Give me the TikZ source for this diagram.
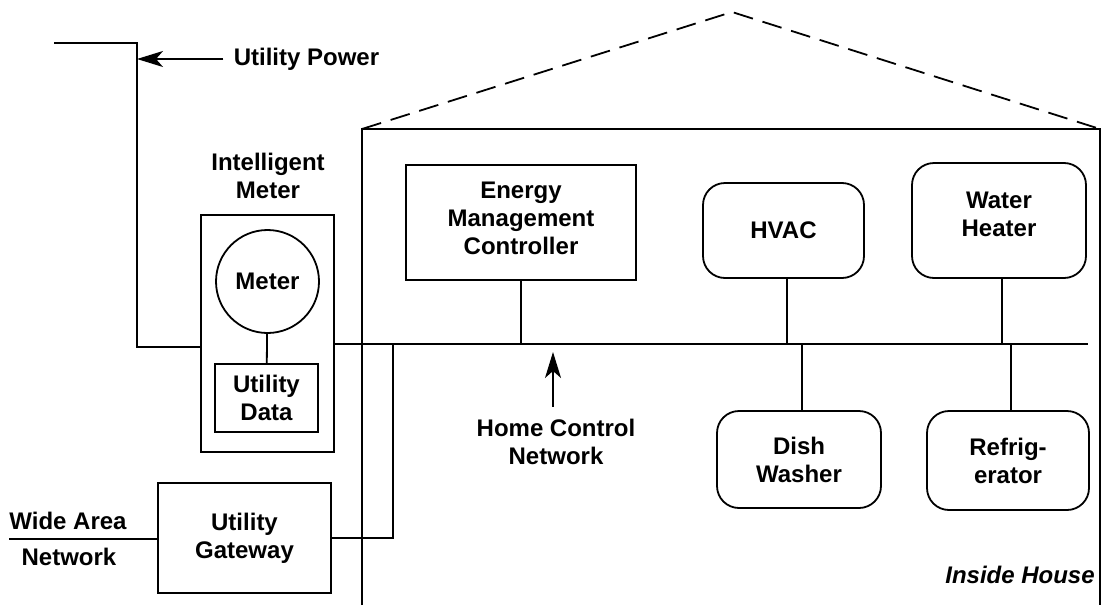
\documentclass[tikz,border=0pt]{standalone}
\usepackage{fontspec}
\setmainfont{Liberation Sans}
\usetikzlibrary{arrows.meta}
\begin{document}
\begin{tikzpicture}[x=0.5pt,y=-0.5pt,
  every node/.style={font=\fontsize{12}{14}\selectfont\bfseries, align=center, inner sep=0pt},
  wire/.style={line width=0.9pt},
  box/.style={draw, line width=0.9pt, rectangle},
  appliance/.style={draw, line width=0.9pt, rectangle, rounded corners=11pt},
  pointer/.style={line width=0.8pt, -{Stealth[length=13pt,width=8pt,inset=3.5pt]}},
  label/.style={inner sep=0pt}]
\useasboundingbox (0,0) rectangle (1102,605);

% house outline with dashed roof
\draw[wire] (362,605) -- (362,129) -- (1100,129) -- (1100,605);
\draw[wire, dash pattern=on 10pt off 5pt] (362,129) -- (732,12) -- (1100,129);

% intelligent meter
\node[label] (imlabel) at (268,176) {Intelligent\\Meter};
\node[box, minimum width=66.5pt, minimum height=118.5pt] (meterbox) at (267.5,333.5) {};
\node[draw, circle, line width=0.9pt, minimum size=51.5pt] (meter) at (267.5,281.5) {Meter};
\node[box, minimum width=51.5pt, minimum height=34pt] (udata) at (266.5,398) {Utility\\Data};
\draw[wire] (meter) -- (udata);

% utility power feed
\coordinate (pwrA) at (54,43);
\coordinate (pwrC) at (137,347);
\draw[wire] (pwrA) -| (pwrC) -- (pwrC -| meterbox.west);
\node[label, inner sep=5pt] (upower) at (306.5,59) {Utility Power};
\coordinate (pwrTip) at (137,59);
\draw[pointer] (upower.west) -- (pwrTip);

% home control network bus
\coordinate (busR) at (1088,344);
\draw[wire] (meterbox.east |- busR) -- (busR);

% utility gateway and wide area network
\node[box, minimum width=86.5pt, minimum height=55pt] (gateway) at (244.5,538) {Utility\\Gateway};
\coordinate (gwJ) at (393,344);
\draw[wire] (gateway.east) -| (gwJ);
\coordinate (wanL) at (9,539);
\draw[wire] (wanL) -- (wanL -| gateway.west);
\node[label] (wan1) at (68,521) {Wide Area};
\node[label] (wan2) at (69,557) {Network};

% energy management controller
\node[box, minimum width=115pt, minimum height=57.5pt] (emc) at (521,222.5) {Energy\\Management\\Controller\rule[-4pt]{0pt}{4pt}};
\draw[wire] (emc.south) -- (emc.south |- busR);

% appliances
\node[appliance, minimum width=80.5pt, minimum height=47.5pt] (hvac) at (783.5,230.5) {HVAC};
\node[appliance, minimum width=87pt, minimum height=57.5pt] (wheater) at (999,220.5) {Water\\Heater\rule[-6pt]{0pt}{6pt}};
\node[appliance, minimum width=82pt, minimum height=48.5pt] (dish) at (799,459.5) {Dish\\Washer};
\node[appliance, minimum width=81pt, minimum height=49.5pt] (fridge) at (1008,460.5) {Refrig-\\erator};
\draw[wire] ([xshift=1.75pt]hvac.south) -- ([xshift=1.75pt]hvac.south |- busR);
\draw[wire] ([xshift=1.5pt]wheater.south) -- ([xshift=1.5pt]wheater.south |- busR);
\draw[wire] ([xshift=1.5pt]dish.north) -- ([xshift=1.5pt]dish.north |- busR);
\draw[wire] ([xshift=1.5pt]fridge.north) -- ([xshift=1.5pt]fridge.north |- busR);

% network label with pointer to the bus
\node[label, inner sep=6pt] (hcn) at (556,442) {Home Control\\Network};
\coordinate (hcnTip) at (553,352);
\draw[pointer] (hcn.north -| hcnTip) -- (hcnTip);

% room label
\node[label, font=\fontsize{12}{14}\selectfont\bfseries\itshape] (inside) at (1020,575) {Inside House};
\end{tikzpicture}
\end{document}
